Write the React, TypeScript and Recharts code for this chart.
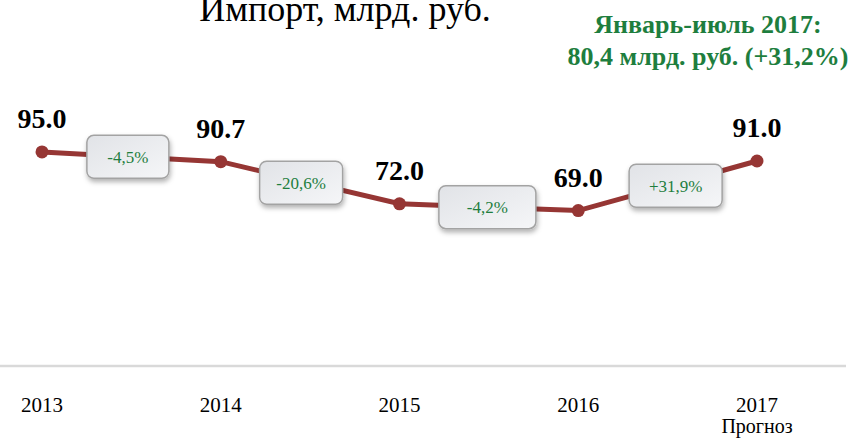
import React from 'react';
import { ComposedChart, Line, Scatter, XAxis, YAxis, LabelList } from 'recharts';

const YEARS = ['2013', '2014', '2015', '2016', '2017'];
const SUBLABELS = ['', '', '', '', 'Прогноз'];
const VALUES = [95.0, 90.7, 72.0, 69.0, 91.0];
const CHANGES = ['-4,5%', '-20,6%', '-4,2%', '+31,9%'];
const TITLE = 'Импорт, млрд. руб.';
const NOTE_LINES = ['Январь-июль 2017:', '80,4 млрд. руб. (+31,2%)'];

// styling only
const BOX_W = [82, 83, 97, 93];
const BOX_DX = [-3.5, -9, -1.5, 8];
const BOX_H = 43;

const SERIF = '"Liberation Serif", "Times New Roman", Times, serif';
const LINE_COLOR = '#963634';
const GREEN = '#1e7e3e';

const lineData = YEARS.map((y, i) => ({ x: i, value: VALUES[i] }));
const boxData = CHANGES.map((c, i) => ({
  x: i + 0.5,
  value: (VALUES[i] + VALUES[i + 1]) / 2,
  label: c,
  idx: i,
}));

const X_MIN = -42 / 178.75;
const X_MAX = 804 / 178.75;

const YearTick = (props: any) => {
  const { x, y, payload } = props;
  const i = payload.value as number;
  return (
    <g>
      <text x={x} y={y + 46} textAnchor="middle" fontFamily={SERIF} fontSize={21} fill="#000">
        {YEARS[i]}
      </text>
      {SUBLABELS[i] ? (
        <text x={x} y={y + 67} textAnchor="middle" fontFamily={SERIF} fontSize={20} fill="#000">
          {SUBLABELS[i]}
        </text>
      ) : null}
    </g>
  );
};

const ValueLabel = (props: any) => {
  const { x, y, value } = props;
  return (
    <text x={x} y={y - 24} textAnchor="middle" fontFamily={SERIF} fontWeight="bold" fontSize={28} fill="#000">
      {Number(value).toFixed(1)}
    </text>
  );
};

const BoxShape = (props: any) => {
  const { cx, cy, payload } = props;
  const i = payload.idx as number;
  const w = BOX_W[i];
  const cxx = cx + BOX_DX[i];
  return (
    <g>
      <rect
        x={cxx - w / 2}
        y={cy - BOX_H / 2}
        width={w}
        height={BOX_H}
        rx={7}
        ry={7}
        fill="url(#boxGrad)"
        stroke="#a3a3a3"
        strokeWidth={1.5}
        filter="url(#boxShadow)"
      />
      <text x={cxx} y={cy + 6} textAnchor="middle" fontFamily={SERIF} fontSize={17} fill={GREEN}>
        {payload.label}
      </text>
    </g>
  );
};

export default function App() {
  return (
    <div style={{ position: 'absolute', left: 0, top: 0, width: 856, height: 439, background: '#fff' }}>
      <svg width={0} height={0} style={{ position: 'absolute' }}>
        <defs>
          <linearGradient id="boxGrad" x1="0" y1="0" x2="1" y2="1">
            <stop offset="0%" stopColor="#e1e3e7" />
            <stop offset="100%" stopColor="#f5f6f8" />
          </linearGradient>
          <filter id="boxShadow" x="-20%" y="-20%" width="150%" height="170%">
            <feDropShadow dx="1" dy="3" stdDeviation="2.5" floodColor="#000" floodOpacity="0.3" />
          </filter>
        </defs>
      </svg>
      <ComposedChart
        width={856}
        height={439}
        data={lineData}
        margin={{ top: 140.7, right: 10, bottom: 0, left: 0 }}
      >
        <XAxis
          type="number"
          dataKey="x"
          domain={[X_MIN, X_MAX]}
          ticks={[0, 1, 2, 3, 4]}
          height={73}
          tickLine={false}
          tickSize={0}
          tickMargin={0}
          axisLine={{ stroke: '#d9d9d9', strokeWidth: 2.5 }}
          tick={<YearTick />}
          interval={0}
        />
        <YAxis type="number" dataKey="value" domain={[0, 100]} hide />
        <Line
          data={lineData}
          dataKey="value"
          type="linear"
          stroke={LINE_COLOR}
          strokeWidth={5}
          dot={{ r: 6.5, fill: LINE_COLOR, stroke: LINE_COLOR, strokeWidth: 0 }}
          activeDot={false}
          isAnimationActive={false}
        >
          <LabelList dataKey="value" content={<ValueLabel />} />
        </Line>
        <Scatter data={boxData} dataKey="value" shape={<BoxShape />} isAnimationActive={false} />
      </ComposedChart>
      <svg
        width={856}
        height={439}
        style={{ position: 'absolute', left: 0, top: 0, pointerEvents: 'none' }}
      >
        <text x={345} y={21} textAnchor="middle" fontFamily={SERIF} fontSize={36} fill="#000">
          {TITLE}
        </text>
        <text x={708} y={33} textAnchor="middle" fontFamily={SERIF} fontWeight="bold" fontSize={26} fill={GREEN}>
          {NOTE_LINES[0]}
        </text>
        <text x={708} y={65} textAnchor="middle" fontFamily={SERIF} fontWeight="bold" fontSize={26} fill={GREEN}>
          {NOTE_LINES[1]}
        </text>
      </svg>
    </div>
  );
}
